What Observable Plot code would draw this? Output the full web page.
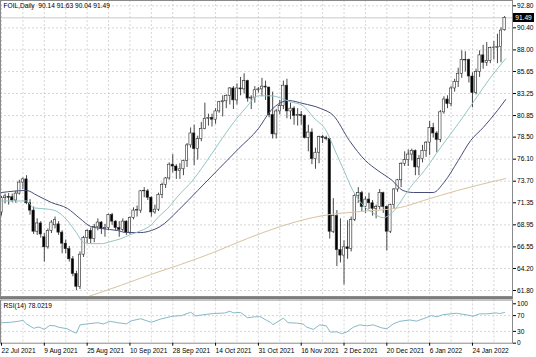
<!DOCTYPE html>
<html><head><meta charset="utf-8">
<script src="https://cdn.jsdelivr.net/npm/d3@7"></script>
<script src="https://cdn.jsdelivr.net/npm/@observablehq/plot@0.6"></script>
<style>
body{margin:0;background:#fff;}
#wrap{position:relative;width:536px;height:357px;overflow:hidden;font-family:"Liberation Sans Narrow","Liberation Sans",Arial,sans-serif;}
#wrap svg{display:block}
#sep{width:513px;height:3px;background:#7c7c7c;}
#bid{position:absolute;left:513px;width:21px;height:9px;background:#000;color:#fff;font-size:6.6px;line-height:9px;text-align:center;}
</style></head><body><div id="wrap"></div>
<script>
const titleText = "FOIL,Daily  90.14 91.63 90.04 91.49";
const rsiTitle = "RSI(14) 78.0219";

const openP = [70.30,71.85,72.00,71.95,71.60,72.35,73.55,73.90,71.30,70.50,68.20,69.10,67.60,66.50,68.30,68.90,69.00,68.10,66.90,66.30,65.20,63.60,62.20,65.70,67.50,68.30,67.40,68.70,69.20,68.50,68.60,70.00,69.30,68.60,68.40,69.30,68.10,69.70,70.50,70.50,72.60,72.60,71.90,70.30,70.60,72.20,73.30,74.00,75.50,75.30,74.80,75.00,75.90,77.60,78.90,77.20,78.30,79.40,80.50,80.60,80.40,81.30,82.30,82.40,83.00,83.80,82.50,83.80,83.70,84.60,82.70,82.80,83.60,83.70,84.00,83.90,80.90,78.80,81.30,81.90,84.10,81.30,81.60,80.80,80.90,80.80,78.40,79.00,76.10,76.80,78.50,78.40,78.30,68.20,69.90,66.20,65.60,66.50,66.30,69.50,72.10,72.40,70.90,71.70,71.30,70.70,70.90,72.40,70.90,68.20,71.10,72.80,73.80,75.60,76.00,76.60,77.00,75.20,76.10,77.00,77.90,79.50,78.90,78.20,81.20,82.60,82.10,83.80,84.50,85.40,86.90,86.90,85.10,83.30,85.60,87.40,86.60,86.80,88.20,88.20,88.30,90.14];
const highP = [72.05,72.30,72.35,72.30,72.60,73.80,74.05,74.30,71.70,70.90,69.60,69.30,68.00,68.50,69.40,69.80,69.30,68.30,67.30,66.60,65.50,63.90,66.00,67.70,68.40,68.60,69.00,69.60,69.30,69.00,70.10,70.20,69.40,69.30,69.60,69.40,69.80,70.80,71.00,72.70,73.00,72.80,72.00,71.10,72.40,73.50,74.10,75.70,76.60,75.50,75.60,76.00,77.80,79.50,79.80,78.60,80.10,82.20,81.00,81.00,81.60,82.40,83.00,83.10,83.90,84.00,84.30,85.00,85.40,84.70,83.00,84.00,83.90,84.90,84.60,83.90,83.40,81.50,82.50,84.60,84.80,82.20,81.80,81.60,81.30,80.90,79.80,79.40,77.30,78.60,78.70,78.60,78.30,71.80,70.50,69.60,67.20,69.40,69.80,72.30,73.00,72.60,72.00,72.40,71.60,71.10,72.80,72.50,71.00,71.20,72.90,73.90,75.70,76.90,77.10,77.20,77.10,76.50,77.60,78.00,80.20,80.00,79.10,81.40,82.90,83.00,84.00,84.80,86.00,87.90,87.80,87.00,85.50,85.90,87.90,88.50,88.80,88.30,88.90,89.70,90.40,91.63];
const lowP = [69.90,71.25,71.10,71.35,71.30,72.20,72.80,71.15,70.00,67.90,67.80,67.50,64.90,66.30,68.00,68.50,67.80,65.80,65.80,64.90,63.30,61.80,61.90,65.40,66.90,66.90,67.00,68.30,67.90,67.60,68.30,68.90,68.30,67.60,68.20,67.80,67.90,69.50,69.80,70.20,71.90,71.60,69.80,70.10,70.40,71.80,72.90,73.80,74.60,73.90,73.90,74.30,75.20,77.30,75.40,76.00,78.00,79.30,79.70,79.60,79.90,81.10,80.70,81.60,82.00,81.50,82.00,83.00,83.20,82.30,81.50,82.20,83.30,82.90,82.50,80.60,78.30,78.30,80.90,81.50,80.50,80.40,79.80,79.70,79.80,78.30,76.90,75.50,75.00,75.60,77.80,78.10,67.40,68.00,64.40,64.80,62.40,65.20,66.00,69.30,71.30,70.40,70.20,70.60,69.90,69.60,70.60,70.20,66.10,68.00,70.70,72.50,73.00,75.30,75.30,75.90,74.30,74.30,75.70,76.30,76.50,78.40,76.80,77.90,81.00,81.60,81.80,83.40,83.90,84.90,85.60,84.40,81.70,83.10,85.00,85.90,86.20,86.50,86.90,86.50,86.60,90.04];
const closeP = [71.85,72.05,71.90,71.60,72.35,73.55,73.90,71.30,70.50,68.20,69.10,67.90,66.50,68.30,69.20,69.50,68.10,66.90,66.30,65.20,63.60,62.20,65.70,67.50,68.30,67.40,68.70,69.20,68.50,68.60,70.00,69.30,68.60,68.40,69.30,68.10,69.70,70.50,70.55,72.60,72.65,71.90,70.30,70.60,72.20,73.30,74.00,75.50,75.30,74.80,75.00,75.90,77.60,78.90,77.20,78.30,79.40,80.50,80.60,80.40,81.30,82.30,82.40,83.00,83.80,82.50,83.80,83.70,84.60,82.70,82.80,83.60,83.70,84.00,83.90,80.90,78.80,81.30,81.90,84.10,81.30,81.60,80.80,80.90,80.80,78.40,79.00,76.10,76.80,78.50,78.40,78.30,68.20,69.90,66.20,65.60,66.50,66.30,69.50,72.10,72.40,70.90,71.70,71.30,70.70,70.90,72.40,70.90,68.20,71.10,72.80,73.80,75.60,76.00,76.60,77.00,75.20,76.10,77.00,77.90,79.50,78.90,78.20,81.20,82.60,82.10,83.80,84.50,85.40,86.90,86.85,85.10,83.30,85.60,87.40,86.60,86.80,88.20,88.25,88.30,90.10,91.49];

const fastIdx = [0,7,9,12,15,18.5,21,23,25,28,30.5,33.5,36,39,42,44,46.5,49.5,53.5,57,61,65,68.5,72,75.5,81,84.5,87.5,91,93.5,96,98.5,101,104,107,109.5,112,114.5,118.5,123,128,132.5,137,141.3];
const fastVal = [71.55,71.55,70.80,70.70,70.50,69.40,68.10,67.02,66.90,66.90,67.12,67.45,67.87,68.30,68.95,69.82,70.70,72.10,73.75,75.60,77.88,80.07,81.70,83.00,83.00,82.35,81.92,80.62,79.20,77.02,74.84,72.66,71.24,70.27,69.73,70.27,71.56,72.99,74.84,77.33,79.96,82.46,84.96,87.04];
const slowIdx = [0,7,10,14,18.5,22,25,28,32.5,35,39,42,44.5,49.5,55,61,66.5,72,75.5,80.5,84.5,89.5,93,97.5,102,105.5,109.5,112.5,115.5,121,124,128,131.5,135,139,141.3];
const slowVal = [72.47,72.69,72.15,71.38,70.73,69.64,68.77,68.55,68.33,68.11,68.11,68.33,68.77,70.51,72.69,75.08,77.26,79.43,81.40,82.48,82.16,81.61,80.86,78.13,75.95,74.86,73.78,72.69,72.47,72.47,73.56,75.95,78.13,79.54,81.40,82.59];
const longIdx = [23.5,33.4,41.8,50.2,59.4,68.9,78.2,87.4,92.2,100.6,111.8,118.3,127.8,141.3];
const longVal = [61.04,62.35,63.54,64.63,65.94,67.46,68.77,69.75,70.08,70.40,70.84,71.60,72.69,73.99];

// RSI(14)
const rsiIdx = [0,2.5,5,6,7,9,10.5,12,13.5,15,16,18.5,20,21,22,24,27,28.5,30.5,32.5,35,36.5,39,42,44.5,48,50.5,53,54.5,56,59.5,62.5,64,65,67,69,71,72.6,74.3,75.4,76.1,79,80.3,82.7,84.5,85.5,87.4,89.2,91,92.2,94,95.3,96.7,98.6,100.4,102.3,104.2,106.5,108,109.8,111.6,114.4,116.3,118.2,120.5,122,123.8,127.5,130.3,132.2,134,136,138.7,139.6,141];
const rsiVal = [52,53,56,58,49,38,41,35,45,44,40.5,36.5,29,25.5,46.5,49,52,49,55.5,52,49,57,62,53,61,68.5,70,78.5,69,71.5,75.5,76.5,81,77,78,64.5,67,67,58,53,47,63.5,52,51,49,41,35,46.5,44,28,29,24,28,40.5,46.5,44,46.5,39,36.5,49,55.5,59,56,62,70,67,72.5,76,72,68.5,74.5,74.5,77,75,78];

const priceTicks = [92.80,90.40,88.00,85.65,83.25,80.85,78.50,76.10,73.70,71.35,68.95,66.55,64.20,61.80];
const priceTickLabels = ["92.80","90.40","88.00","85.65","83.25","80.85","78.50","76.10","73.70","71.35","68.95","66.55","64.20","61.80"];
const rsiTicks = [100,70,30,0];
const rsiTickLabels = ["100","70","30","0"];
const rsiLevels = [70,30];
const labelIdx = [0,12,24,36,48,60,72,84,96,108,120,132];
const dateLabels = ["22 Jul 2021","9 Aug 2021","25 Aug 2021","10 Sep 2021","28 Sep 2021","14 Oct 2021","31 Oct 2021","16 Nov 2021","2 Dec 2021","20 Dec 2021","6 Jan 2022","24 Jan 2022"];

const bars = closeP.map((c, i) => ({i, o: openP[i], h: highP[i], l: lowP[i], c}));
const toPts = (idx, val) => idx.map((x, k) => ({x, y: val[k]}));
const fast = toPts(fastIdx, fastVal), slow = toPts(slowIdx, slowVal), longMA = toPts(longIdx, longVal);
const rsi = toPts(rsiIdx, rsiVal);
const gridIdx = d3.range(0, closeP.length, 6);
const xDomain = [-0.28, 143.22];
const font = {fontFamily: "'Liberation Sans Narrow','Liberation Sans',Arial,sans-serif", fontSize: "6.6px", background: "#fff", color: "#000", overflow: "visible"};
const gridStyle = {stroke: "#c4c4c4", strokeWidth: 0.7, strokeDasharray: "2,2"};

const main = Plot.plot({
  width: 536, height: 296, marginLeft: 0, marginRight: 24, marginTop: 0, marginBottom: 0,
  style: font,
  x: {domain: xDomain, axis: null},
  y: {domain: [61.147, 93.377], label: null},
  marks: [
    Plot.ruleY(priceTicks, gridStyle),
    Plot.ruleX(gridIdx, gridStyle),
    Plot.ruleY([closeP[closeP.length - 1]], {stroke: "#bdbdbd", strokeWidth: 0.8}),
    Plot.ruleX(bars, {x: "i", y1: "l", y2: "h", stroke: "#1a1a1a", strokeWidth: 0.8}),
    Plot.rect(bars, {x1: d => d.i - 0.33, x2: d => d.i + 0.33, y1: "o", y2: "c",
      fill: d => d.c >= d.o ? "#fff" : "#000", stroke: "#2a2a2a", strokeWidth: 0.6}),
    Plot.line(longMA, {x: "x", y: "y", stroke: "#d8c2a0", strokeWidth: 1, curve: "monotone-x", clip: true}),
    Plot.line(slow, {x: "x", y: "y", stroke: "#474c78", strokeWidth: 1, curve: "monotone-x"}),
    Plot.line(fast, {x: "x", y: "y", stroke: "#92c5c5", strokeWidth: 1, curve: "monotone-x"}),
    Plot.frame({stroke: "#8a8a8a", strokeWidth: 1}),
    Plot.axisY({anchor: "right", label: null, ticks: priceTicks, tickFormat: d => priceTickLabels[priceTicks.indexOf(d)], tickSize: 3, tickPadding: 1.5}),
    Plot.text([titleText], {frameAnchor: "top-left", dx: 3, dy: 3, fill: "#000"})
  ]
});

const lower = Plot.plot({
  width: 536, height: 58, marginLeft: 0, marginRight: 24, marginTop: 0.5, marginBottom: 14.3,
  style: font,
  x: {domain: xDomain, label: null},
  y: {domain: [0, 109.6], label: null},
  marks: [
    Plot.ruleX(gridIdx, gridStyle),
    Plot.ruleY(rsiLevels, gridStyle),
    Plot.line(rsi, {x: "x", y: "y", stroke: "#86b9c9", strokeWidth: 1}),
    Plot.frame({stroke: "#8a8a8a", strokeWidth: 1}),
    Plot.axisY({anchor: "right", label: null, ticks: rsiTicks, tickFormat: d => rsiTickLabels[rsiTicks.indexOf(d)], tickSize: 3, tickPadding: 1.5}),
    Plot.axisX({anchor: "bottom", label: null, ticks: labelIdx, tickFormat: d => dateLabels[labelIdx.indexOf(d)], textAnchor: "start", tickSize: 3, tickPadding: 2}),
    Plot.text([rsiTitle], {frameAnchor: "top-left", dx: 3, dy: 3, fill: "#000"})
  ]
});

const wrap = document.getElementById("wrap");
wrap.appendChild(main);
const sep = document.createElement("div"); sep.id = "sep"; wrap.appendChild(sep);
wrap.appendChild(lower);
const bid = document.createElement("div");
bid.id = "bid";
const last = closeP[closeP.length - 1];
bid.textContent = last.toFixed(2);
bid.style.top = (main.scale("y").apply(last) - 4.5) + "px";
wrap.appendChild(bid);
</script></body></html>
